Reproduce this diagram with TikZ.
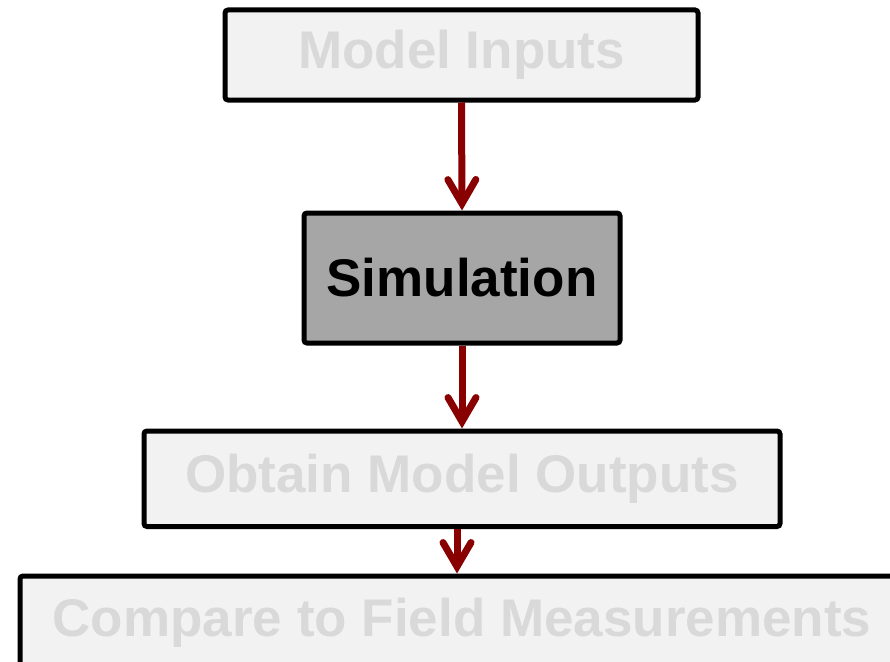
\documentclass[tikz,border=0pt]{standalone}
\usepackage{fontspec}
\setmainfont{Liberation Sans}
\usetikzlibrary{arrows.meta}
\definecolor{boxfill}{HTML}{F2F2F2}
\definecolor{fadetext}{HTML}{D9D9D9}
\definecolor{simfill}{HTML}{A6A6A6}
\definecolor{arrred}{HTML}{880000}
\tikzset{
  flowbox/.style={draw=black, line width=5pt, rounded corners=3pt, inner sep=0pt,
    fill=boxfill, text=fadetext, font=\fontsize{53}{60}\selectfont\bfseries},
  simbox/.style={flowbox, fill=simfill, text=black},
  flowarrow/.style={draw=arrred, line width=7pt,
    -{Straight Barb[length=24pt, width=28pt, line cap=round, line join=miter]}}
}
\begin{document}
\begin{tikzpicture}[x=1pt, y=-1pt]
\useasboundingbox (0,0) rectangle (890,661);
\clip (0,0) rectangle (890,661);
\node[flowbox, minimum width=473pt, minimum height=90pt] (inputs) at (461.5,55) {Model Inputs};
\node[simbox, minimum width=316pt, minimum height=130pt] (sim) at (462,278) {Simulation};
\node[flowbox, minimum width=636pt, minimum height=95.5pt] (outputs) at (462,478.75) {Obtain Model Outputs};
\node[flowbox, minimum width=884pt, minimum height=93pt] (compare) at (462,622.5) {Compare to Field Measurements};
\draw[flowarrow] (inputs.south) -- (sim.north);
\draw[flowarrow] (sim.south) -- (outputs.north);
\draw[flowarrow] ([xshift=-5pt]outputs.south) -- ([xshift=-5pt]compare.north);
\end{tikzpicture}
\end{document}
